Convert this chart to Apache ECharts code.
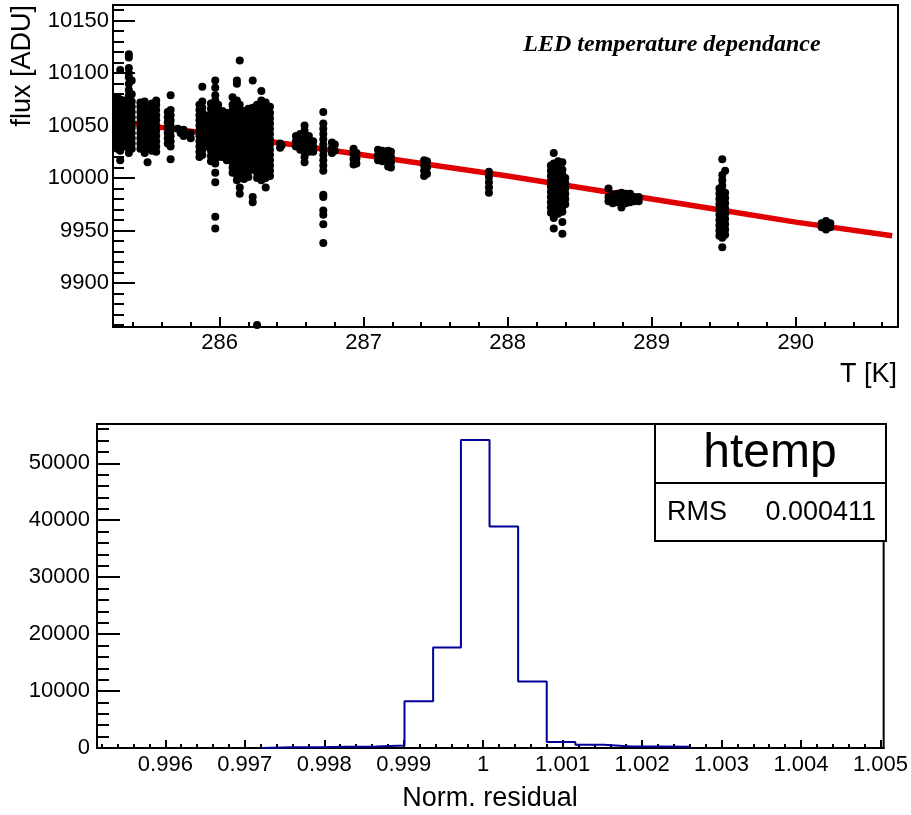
<!DOCTYPE html>
<html><head><meta charset="utf-8">
<script src="https://cdn.jsdelivr.net/npm/echarts@6/dist/echarts.min.js"></script>
<style>html,body{margin:0;padding:0;background:#fff}#c{width:911px;height:815px}</style>
</head><body><div id="c"></div><script>
// ---- Top panel: flux vs temperature (columns of measured points) ----
const scatterT = [
  285.29, 285.31, 285.34, 285.37, 285.39,
  285.45, 285.48, 285.50, 285.53, 285.56,
  285.64, 285.66, 285.71, 285.73, 285.75, 285.78, 285.80,
  285.86, 285.88, 285.90,
  285.94, 285.97, 285.99,
  286.02, 286.05,
  286.09, 286.12, 286.14, 286.17, 286.20, 286.23, 286.26, 286.29, 286.32, 286.35,
  286.42, 286.43,
  286.53, 286.56, 286.59, 286.62, 286.65,
  286.72, 286.78, 286.80,
  286.93, 286.95,
  287.10, 287.13, 287.17, 287.19,
  287.42, 287.44,
  287.87,
  288.30, 288.32, 288.35, 288.38, 288.40,
  288.70, 288.73, 288.76, 288.79, 288.82, 288.85, 288.88, 288.91,
  289.47, 289.49, 289.51,
  290.18, 290.21, 290.24
];
const scatterFlux = [
  [10028,10033,10038,10043,10048,10053,10058,10063,10068,10073,10077],
  [10017,10026,10031,10036,10041,10046,10051,10056,10061,10066,10071,10075,10103],
  [10030,10035,10040,10045,10050,10055,10060,10065,10070,10074],
  [10024,10029,10034,10039,10044,10049,10054,10059,10064,10069,10074,10079,10084,10090,10096,10100,10105,10115,10118],
  [10028,10033,10038,10043,10048,10053,10058,10063,10068,10073,10080,10093],
  [10028,10033,10038,10043,10048,10053,10058,10063,10068,10072],
  [10024,10029,10034,10039,10044,10049,10054,10059,10064,10069,10073],
  [10015,10030,10035,10040,10045,10050,10055,10060,10065],
  [10026,10031,10036,10041,10046,10051,10056,10061,10066,10071],
  [10025,10030,10035,10040,10045,10050,10055,10060,10065,10070,10074],
  [10033,10038,10043,10048,10053,10058,10063],
  [10018,10030,10035,10040,10045,10050,10055,10060,10065,10079],
  [10047], [10043], [10046,10040], [10041], [10038,10043],
  [10020,10025,10030,10035,10040,10045,10050,10055,10060,10065,10070],
  [10022,10027,10032,10037,10042,10047,10052,10057,10062,10067,10073,10087],
  [10030,10035,10040,10045,10050,10055,10060],
  [10016,10021,10026,10031,10036,10041,10046,10051,10056,10061,10066,10071],
  [9952,9963,9996,10005,10014,10019,10024,10029,10034,10039,10044,10049,10054,10059,10064,10069,10074,10079,10086,10093],
  [10020,10025,10030,10035,10040,10045,10050,10055,10060,10065,10070],
  [10020,10025,10030,10035,10040,10045,10050,10055,10060,10064],
  [10017,10022,10027,10032,10037,10042,10047,10052,10057,10062],
  [10005,10010,10015,10020,10025,10030,10035,10040,10045,10050,10055,10060,10065,10070,10077],
  [9998,10003,10008,10013,10018,10023,10028,10033,10038,10043,10048,10053,10058,10063,10068,10074,10090,10093],
  [9985,9991,10000,10005,10010,10015,10020,10025,10030,10035,10040,10045,10050,10055,10060,10065,10070,10112],
  [9999,10004,10009,10014,10019,10024,10029,10034,10039,10044,10049,10054,10059,10064],
  [10001,10007,10012,10017,10022,10027,10032,10037,10042,10047,10052,10057,10062,10066],
  [9977,9982,10008,10013,10018,10023,10028,10033,10038,10043,10048,10053,10058,10063,10067,10093],
  [9860,10000,10005,10010,10015,10020,10025,10030,10035,10040,10045,10050,10055,10060,10065,10070],
  [9998,10003,10008,10013,10018,10023,10028,10033,10038,10043,10048,10053,10058,10063,10068,10074,10083],
  [9991,10000,10005,10010,10015,10020,10025,10030,10035,10040,10045,10050,10055,10060,10065,10072],
  [10002,10007,10012,10017,10022,10027,10032,10037,10042,10047,10052,10057,10062,10068],
  [10029,10033], [10031],
  [10030,10035,10040],
  [10027,10032,10037,10042],
  [10015,10020,10025,10030,10035,10040,10045,10050],
  [10025,10030,10035,10040],
  [10025,10030,10035],
  [9938,9956,9965,9969,9982,9984,10007,10012,10017,10022,10027,10032,10037,10042,10047,10052,10063],
  [10024,10029,10034],
  [10026,10032],
  [10013,10018,10023,10028],
  [10014,10019,10024],
  [10017,10022,10027],
  [10016,10021,10026],
  [10011,10016,10021,10026],
  [10010,10015,10020,10025],
  [10002,10007,10012,10017],
  [10004,10010,10016],
  [9986,9991,9996,10001,10006],
  [9967,9972,9977,9982,9987,9992,9997,10002,10007,10012],
  [9952,9962,9969,9974,9979,9984,9989,9994,9999,10004,10009,10014,10024],
  [9966,9971,9976,9981,9986,9991,9996,10001,10006,10011,10016],
  [9947,9958,9968,9973,9978,9983,9988,9993,9998,10003,10008,10015],
  [9975,9980,9985,9990,9995,10000],
  [9978,9982,9990],
  [9976,9980,9984],
  [9977,9981,9985],
  [9972,9978,9982,9986],
  [9976,9980,9985],
  [9977,9981,9985],
  [9978,9982],
  [9978,9982],
  [9945,9950,9955,9960,9965,9970,9975,9980,9985,9990],
  [9934,9943,9948,9953,9958,9963,9968,9973,9978,9983,9988,9993,9998,10003,10018],
  [9946,9951,9956,9961,9966,9971,9976,9981,9986,10007],
  [9953,9957],
  [9951,9955,9959],
  [9953,9957]
];
// fitted curve
const fitT    = [285.27, 285.5, 286.0, 286.5, 287.0, 287.5, 288.0, 288.5, 289.0, 289.5, 290.0, 290.67];
const fitFlux = [10055, 10050, 10041, 10032, 10022, 10012, 10002, 9991, 9980, 9969, 9958, 9945];

const topXMajor = [286, 287, 288, 289, 290];
const topXMinor = [285.4,285.6,285.8,286.2,286.4,286.6,286.8,287.2,287.4,287.6,287.8,288.2,288.4,288.6,288.8,289.2,289.4,289.6,289.8,290.2,290.4,290.6];
const topYMajor = [9900, 9950, 10000, 10050, 10100, 10150];
const topYMinor = [9860,9870,9880,9890,9910,9920,9930,9940,9960,9970,9980,9990,10010,10020,10030,10040,10060,10070,10080,10090,10110,10120,10130,10140,10160];

// ---- Bottom panel: histogram of normalized residual ----
const binEdges = [0.99722,0.99758,0.99794,0.99829,0.99865,0.99901,0.99937,0.99972,1.00008,1.00044,1.00080,1.00116,1.00152,1.00187,1.00223,1.00259];
const binCounts = [150,150,200,250,450,8200,17650,54100,38900,11700,1050,580,250,250,200];

const botXMajor = [0.996,0.997,0.998,0.999,1.000,1.001,1.002,1.003,1.004,1.005];
const botXMinor = [0.9952,0.9954,0.9956,0.9958,0.9962,0.9964,0.9966,0.9968,0.9972,0.9974,0.9976,0.9978,0.9982,0.9984,0.9986,0.9988,0.9992,0.9994,0.9996,0.9998,1.0002,1.0004,1.0006,1.0008,1.0012,1.0014,1.0016,1.0018,1.0022,1.0024,1.0026,1.0028,1.0032,1.0034,1.0036,1.0038,1.0042,1.0044,1.0046,1.0048];
const botYMajor = [0, 10000, 20000, 30000, 40000, 50000];
const botYMinor = [2000,4000,6000,8000,12000,14000,16000,18000,22000,24000,26000,28000,32000,34000,36000,38000,42000,44000,46000,48000,52000,54000,56000];

const statsName = 'htemp';
const statsLabel = 'RMS';
const statsValue = '0.000411';

// ---- build series data ----
const scatterData = [];
scatterT.forEach((t, i) => scatterFlux[i].forEach(f => scatterData.push([t, f])));
const fitData = fitT.map((t, i) => [t, fitFlux[i]]);
const histData = [[binEdges[0], 0]];
binCounts.forEach((c, i) => { histData.push([binEdges[i], c]); histData.push([binEdges[i + 1], c]); });
histData.push([binEdges[binEdges.length - 1], 0]);

const FONT = 'Liberation Sans, Arial, Helvetica, sans-serif';
const black = '#000';

function majorAxis(opts) {
  return Object.assign({
    type: 'value', scale: true,
    axisLine: { show: true, onZero: false, lineStyle: { color: black, width: 2 } },
    splitLine: { show: false },
    axisTick: { show: true, inside: true, length: opts.tickLen, lineStyle: { color: black, width: 2 }, customValues: opts.ticks },
    axisLabel: { show: true, customValues: opts.ticks, color: black, fontSize: 22, fontFamily: FONT, margin: opts.margin, formatter: opts.fmt }
  }, opts.base);
}
function minorAxis(opts) {
  return Object.assign({
    type: 'value', scale: true,
    axisLine: { show: false, onZero: false },
    splitLine: { show: false },
    axisTick: { show: true, inside: true, length: opts.tickLen, lineStyle: { color: black, width: 2 }, customValues: opts.ticks },
    axisLabel: { show: false, customValues: opts.ticks }
  }, opts.base);
}
const intFmt = v => String(Math.round(v));
const decFmt = v => String(+(+v).toFixed(4));

const chart = echarts.init(document.getElementById('c'), null, { renderer: 'canvas' });
chart.setOption({
  animation: false,
  backgroundColor: '#fff',
  grid: [
    { left: 113, top: 5, width: 785, height: 322, show: true, borderColor: black, borderWidth: 2, containLabel: false },
    { left: 97, top: 424, width: 789, height: 324, show: true, borderColor: black, borderWidth: 2, containLabel: false }
  ],
  xAxis: [
    majorAxis({ base: { gridIndex: 0, position: 'bottom', min: 285.26, max: 290.71 }, ticks: topXMajor, tickLen: 10, margin: 5, fmt: intFmt }),
    minorAxis({ base: { gridIndex: 0, position: 'bottom', min: 285.26, max: 290.71 }, ticks: topXMinor, tickLen: 5 }),
    majorAxis({ base: { gridIndex: 1, position: 'bottom', min: 0.99514, max: 1.00504 }, ticks: botXMajor, tickLen: 8, margin: 6, fmt: decFmt }),
    minorAxis({ base: { gridIndex: 1, position: 'bottom', min: 0.99514, max: 1.00504 }, ticks: botXMinor, tickLen: 4 })
  ],
  yAxis: [
    majorAxis({ base: { gridIndex: 0, position: 'left', min: 9858, max: 10165 }, ticks: topYMajor, tickLen: 22, margin: 4, fmt: intFmt }),
    minorAxis({ base: { gridIndex: 0, position: 'left', min: 9858, max: 10165 }, ticks: topYMinor, tickLen: 11 }),
    majorAxis({ base: { gridIndex: 1, position: 'left', min: 0, max: 56900 }, ticks: botYMajor, tickLen: 23, margin: 7, fmt: intFmt }),
    minorAxis({ base: { gridIndex: 1, position: 'left', min: 0, max: 56900 }, ticks: botYMinor, tickLen: 12 })
  ],
  series: [
    { type: 'line', xAxisIndex: 0, yAxisIndex: 0, data: fitData, symbol: 'none', smooth: false,
      lineStyle: { color: '#e00000', width: 5.5 }, z: 2, silent: true },
    { type: 'scatter', xAxisIndex: 0, yAxisIndex: 0, data: scatterData, symbol: 'circle', symbolSize: 8,
      itemStyle: { color: black, opacity: 1 }, z: 3, silent: true, clip: false, large: false },
    { type: 'line', xAxisIndex: 2, yAxisIndex: 2, data: histData, symbol: 'none', step: false,
      lineStyle: { color: '#000099', width: 2 }, z: 2, silent: true }
  ],
  graphic: [
    { type: 'text', x: 672, y: 45, z: 100, style: { text: 'LED temperature dependance', font: 'italic bold 24px "Liberation Serif", "Times New Roman", serif', fill: black, align: 'center', verticalAlign: 'middle' } },
    { type: 'text', x: 23, y: 5, rotation: Math.PI / 2, z: 100, style: { text: 'flux [ADU]', font: '27px ' + FONT, fill: black, align: 'right', verticalAlign: 'middle' } },
    { type: 'text', x: 897, y: 375, z: 100, style: { text: 'T [K]', font: '27px ' + FONT, fill: black, align: 'right', verticalAlign: 'middle' } },
    { type: 'text', x: 490, y: 799, z: 100, style: { text: 'Norm. residual', font: '27px ' + FONT, fill: black, align: 'center', verticalAlign: 'middle' } },
    { type: 'rect', z: 100, shape: { x: 655, y: 424, width: 231, height: 117 }, style: { fill: '#fff', stroke: black, lineWidth: 2 } },
    { type: 'line', z: 101, shape: { x1: 655, y1: 483, x2: 886, y2: 483 }, style: { stroke: black, lineWidth: 2 } },
    { type: 'text', x: 770, y: 454, z: 102, style: { text: statsName, font: '48px ' + FONT, fill: black, align: 'center', verticalAlign: 'middle' } },
    { type: 'text', x: 667, y: 513, z: 102, style: { text: statsLabel, font: '27px ' + FONT, fill: black, align: 'left', verticalAlign: 'middle' } },
    { type: 'text', x: 876, y: 513, z: 102, style: { text: statsValue, font: '27px ' + FONT, fill: black, align: 'right', verticalAlign: 'middle' } }
  ]
});
</script></body></html>
